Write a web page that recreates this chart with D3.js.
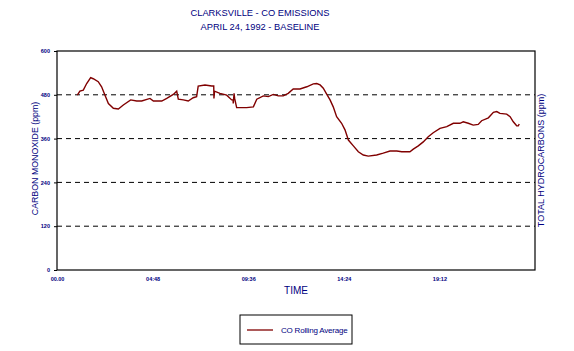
<!DOCTYPE html>
<svg width="574" height="351"></svg>
<script src="https://d3js.org/d3.v7.min.js"></script>
<style>
  body { margin: 0; background: #fff; }
  svg { font-family: "Liberation Sans", Arial, sans-serif; }
  .grid line { stroke: #000; stroke-dasharray: 5,4; }
  .co-line { fill: none; stroke: #800000; stroke-width: 1.4px; }
</style>
<script>
// hours since midnight, CO rolling average (ppm)
var hours = [1.02, 1.15, 1.32, 1.49, 1.69, 1.82, 2.07, 2.24, 2.41, 2.58, 2.83, 3.08, 3.33, 3.70, 4.00,
  4.25, 4.67, 4.84, 5.26, 5.51, 5.84, 6.01, 6.09, 6.34, 6.59, 6.84, 7.01, 7.09, 7.43, 7.77,
  7.87, 7.88, 7.91, 8.18, 8.52, 8.77, 8.84, 8.85, 8.89, 8.92, 9.02, 9.27, 9.52, 9.86, 10.03,
  10.36, 10.61, 10.86, 11.11, 11.36, 11.61, 11.86, 12.20, 12.54, 12.87, 13.04, 13.21, 13.37,
  13.54, 13.71, 13.87, 14.04, 14.29, 14.46, 14.63, 14.88, 15.13, 15.38, 15.63, 16.05, 16.38,
  16.72, 17.06, 17.31, 17.72, 17.89, 18.14, 18.39, 18.64, 18.89, 19.23, 19.57, 19.90, 20.23,
  20.40, 20.65, 20.90, 21.15, 21.32, 21.66, 21.91, 22.08, 22.24, 22.58, 22.75, 22.91, 23.08,
  23.16, 23.21];
var coValues = [479, 490, 493, 511, 527, 524, 516, 502, 479, 456, 443, 441, 452, 466, 463,
  463, 470, 463, 463, 470, 481, 490, 468, 466, 463, 472, 475, 504, 507, 504,
  504, 470, 490, 484, 479, 466, 466, 456, 484, 470, 445, 445, 445, 447, 468,
  477, 475, 481, 477, 477, 484, 496, 496, 502, 510, 511, 507, 498,
  482, 466, 447, 420, 402, 384, 356, 340, 324, 315, 312, 315, 320,
  326, 326, 324, 324, 331, 340, 351, 365, 376, 388, 393, 402, 402,
  406, 402, 397, 399, 409, 417, 432, 434, 429, 427, 420, 406, 395,
  395, 400];

var yTicks = [0, 120, 240, 360, 480, 600];
var gridValues = [120, 240, 360, 480];
var xTicks = [0, 4.8, 9.6, 14.4, 19.2];
var xTickLabels = ["00.00", "04:48", "09:36", "14:24", "19:12"];

var navy = "#000080";
var svg = d3.select("svg"),
    margin = {top: 51, right: 39, bottom: 81, left: 57},
    width = +svg.attr("width") - margin.left - margin.right,
    height = +svg.attr("height") - margin.top - margin.bottom,
    g = svg.append("g").attr("transform", "translate(" + margin.left + "," + margin.top + ")");

var x = d3.scaleLinear().domain([0, 24]).range([0, width]);
var y = d3.scaleLinear().domain([0, 600]).range([height, 0]);

// dashed grid
g.append("g").attr("class", "grid")
  .selectAll("line")
  .data(gridValues)
  .enter().append("line")
    .attr("x1", 0)
    .attr("x2", width)
    .attr("y1", function(d) { return y(d); })
    .attr("y2", function(d) { return y(d); });

// frame
g.append("rect")
  .attr("width", width)
  .attr("height", height)
  .attr("fill", "none")
  .attr("stroke", "#000")
  .attr("stroke-width", 1.2);

// y axis
var yAxis = g.append("g")
  .call(d3.axisLeft(y).tickValues(yTicks).tickSize(3).tickPadding(4));
yAxis.select(".domain").remove();
yAxis.selectAll("text")
  .attr("fill", navy)
  .style("font-size", "5.5px")
  .style("font-weight", "bold");

// x axis
var xAxis = g.append("g")
  .attr("transform", "translate(0," + height + ")")
  .call(d3.axisBottom(x).tickValues(xTicks)
    .tickFormat(function(d, i) { return xTickLabels[i]; })
    .tickSize(0).tickPadding(7));
xAxis.select(".domain").remove();
xAxis.selectAll("text")
  .attr("fill", navy)
  .style("font-size", "5.5px")
  .style("font-weight", "bold");

// data line
var points = hours.map(function(h, i) { return [h, coValues[i]]; });
g.append("path")
  .datum(points)
  .attr("class", "co-line")
  .attr("d", d3.line()
    .x(function(d) { return x(d[0]); })
    .y(function(d) { return y(d[1]); }));

// titles
svg.append("text")
  .attr("x", 260).attr("y", 16)
  .attr("text-anchor", "middle")
  .attr("fill", navy)
  .style("font-size", "9.3px")
  .text("CLARKSVILLE - CO EMISSIONS");
svg.append("text")
  .attr("x", 260).attr("y", 29.5)
  .attr("text-anchor", "middle")
  .attr("fill", navy)
  .style("font-size", "9.3px")
  .text("APRIL 24, 1992 - BASELINE");

svg.append("text")
  .attr("x", margin.left + width / 2).attr("y", 294)
  .attr("text-anchor", "middle")
  .attr("fill", navy)
  .style("font-size", "10px")
  .text("TIME");

svg.append("text")
  .attr("transform", "translate(38," + (margin.top + height / 2 - 2) + ") rotate(-90)")
  .attr("text-anchor", "middle")
  .attr("fill", navy)
  .style("font-size", "8.8px")
  .text("CARBON MONOXIDE (ppm)");

svg.append("text")
  .attr("transform", "translate(544," + (margin.top + height / 2) + ") rotate(-90)")
  .attr("text-anchor", "middle")
  .attr("fill", navy)
  .style("font-size", "9px")
  .text("TOTAL HYDROCARBONS (ppm)");

// legend
var legend = svg.append("g").attr("transform", "translate(240,315)");
legend.append("rect")
  .attr("width", 112).attr("height", 29)
  .attr("fill", "#fff")
  .attr("stroke", "#000");
legend.append("line")
  .attr("x1", 7).attr("x2", 33)
  .attr("y1", 15).attr("y2", 15)
  .attr("stroke", "#800000")
  .attr("stroke-width", 1.3);
legend.append("text")
  .attr("x", 41).attr("y", 18)
  .attr("fill", navy)
  .style("font-size", "8px")
  .style("letter-spacing", "-0.2px")
  .text("CO Rolling Average");
</script>
